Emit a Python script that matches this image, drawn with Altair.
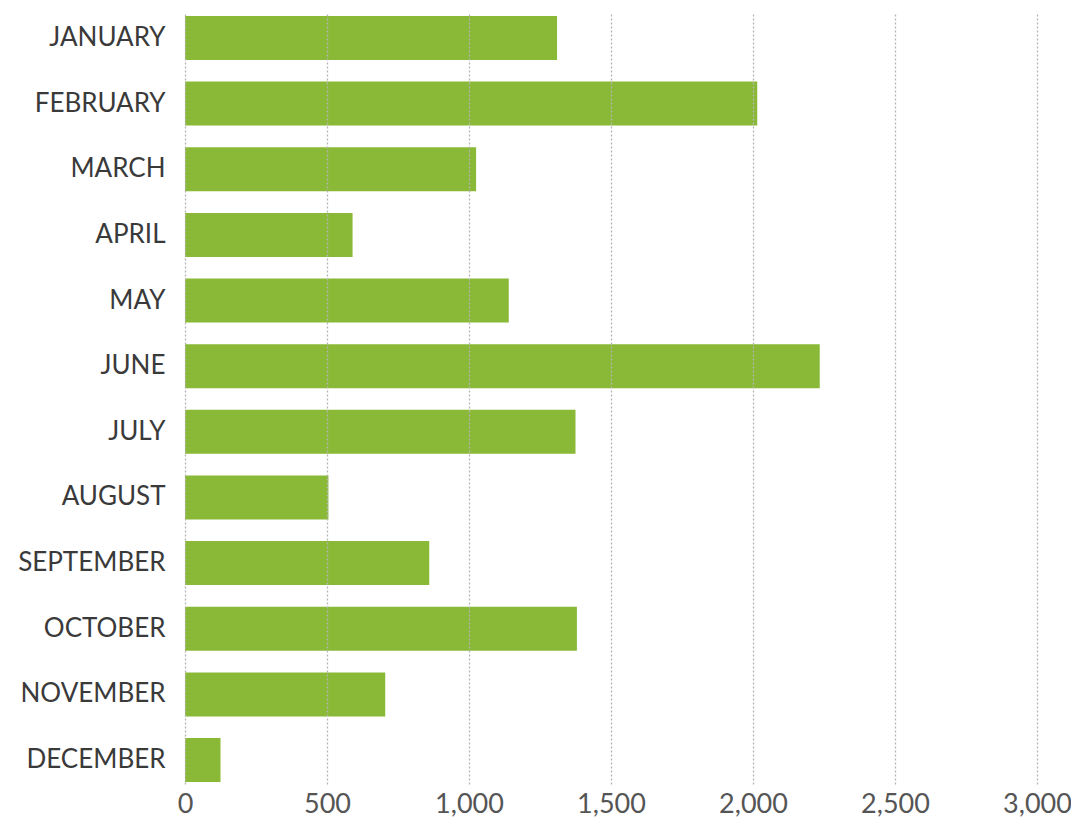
import altair as alt
import pandas as pd

months = ["JANUARY", "FEBRUARY", "MARCH", "APRIL", "MAY", "JUNE", "JULY",
          "AUGUST", "SEPTEMBER", "OCTOBER", "NOVEMBER", "DECEMBER"]
values = [1310, 2015, 1025, 590, 1140, 2235, 1375, 505, 860, 1380, 705, 125]
x_ticks = [0, 500, 1000, 1500, 2000, 2500, 3000]

df = pd.DataFrame({"month": months, "value": values})

font = "Lato"

chart = alt.Chart(df).mark_bar(color="#8AB937").encode(
    x=alt.X("value:Q",
            scale=alt.Scale(domain=[0, 3000], nice=False),
            axis=alt.Axis(values=x_ticks, title=None, domain=False, ticks=False,
                          grid=True, gridColor="#b4b4b4", gridDash=[2, 2], gridWidth=1.3,
                          labelFont=font, labelFontSize=27, labelColor="#555",
                          labelPadding=7, labelFlush=False, labelOverlap=False,
                          format=",.0f", zindex=1)),
    y=alt.Y("month:N", sort=months,
            scale=alt.Scale(paddingInner=0.33, paddingOuter=0.03),
            axis=alt.Axis(title=None, domain=False, ticks=False, grid=False,
                          labelFont=font, labelFontSize=26, labelColor="#3a3a3a",
                          labelPadding=20)),
).properties(
    width=852, height=770,
    background="white",
    autosize=alt.AutoSizeParams(type="none"),
    padding={"left": 177, "top": 6, "right": 34, "bottom": 33},
).configure_view(stroke=None, strokeWidth=0)

chart.save("out.html", embed_options={"renderer": "svg", "actions": False})
